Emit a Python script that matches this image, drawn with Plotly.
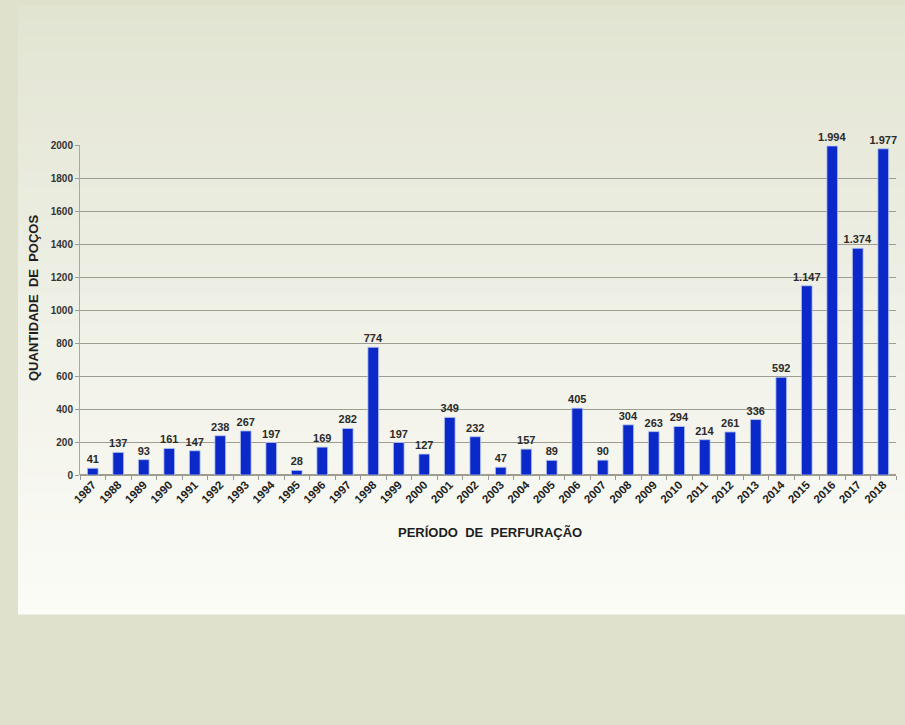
import plotly.graph_objects as go

years = [str(y) for y in range(1987, 2019)]
wells = [41, 137, 93, 161, 147, 238, 267, 197, 28, 169, 282, 774, 197, 127, 349,
         232, 47, 157, 89, 405, 90, 304, 263, 294, 214, 261, 336, 592, 1147, 1994,
         1374, 1977]
y_ticks = list(range(0, 2001, 200))

labels = [f"{v:,}".replace(",", ".") for v in wells]

W, H = 905, 725
L, R, T, B = 80, 9, 145, 250
pw = W - L - R
ph = H - T - B


def px_to_paper_x(px):
    return (px - L) / pw


def px_to_paper_y(py):
    return (H - B - py) / ph


FONT = "Liberation Sans, Arial, sans-serif"

fig = go.Figure()
fig.add_trace(go.Bar(
    x=years, y=wells, text=labels, textposition="outside",
    constraintext="none",
    textfont=dict(family=FONT, size=11, color="#2a2a2a", weight="bold"),
    marker=dict(color="#0b29c9", line=dict(color="#b9c8f0", width=0.8)),
    cliponaxis=False,
))

# gradient panel
top_px, bot_px = 5, 614
c_top = (226, 228, 210)
c_mid = (239, 240, 230)
c_bot = (252, 252, 247)
n = 40
shapes = []
for i in range(n):
    y0 = top_px + (bot_px - top_px) * i / n
    y1 = top_px + (bot_px - top_px) * (i + 1) / n
    t = (i + 0.5) / n
    if t < 0.5:
        a, b, s = c_top, c_mid, t / 0.5
    else:
        a, b, s = c_mid, c_bot, (t - 0.5) / 0.5
    col = tuple(round(a[k] + (b[k] - a[k]) * s) for k in range(3))
    shapes.append(dict(
        type="rect", xref="paper", yref="paper", layer="below",
        x0=px_to_paper_x(18), x1=px_to_paper_x(906),
        y0=px_to_paper_y(y1 + 0.6), y1=px_to_paper_y(y0),
        fillcolor="rgb(%d,%d,%d)" % col, line=dict(width=0),
    ))

fig.update_layout(
    width=W, height=H,
    margin=dict(l=L, r=R, t=T, b=B),
    paper_bgcolor="#e0e1cc",
    plot_bgcolor="rgba(0,0,0,0)",
    shapes=shapes,
    showlegend=False,
    bargap=0.58,
    font=dict(family=FONT, color="#222"),
    xaxis=dict(
        type="category", tickangle=-45,
        tickfont=dict(family=FONT, size=11.5, color="#1e1e1e", weight="bold"),
        ticks="outside", tickson="boundaries", ticklen=4, tickcolor="#999",
        showline=False, showgrid=False,
    ),
    yaxis=dict(
        range=[0, 2000], tickvals=y_ticks,
        tickfont=dict(family=FONT, size=10, color="#333", weight="bold"),
        showgrid=True, gridcolor="#9d9d8f", gridwidth=1,
        zeroline=True, zerolinecolor="#9d9d8f",
        showline=True, linecolor="#a8a8a0", linewidth=1,
        ticks="outside", ticklen=4, tickcolor="#999",
    ),
    annotations=[
        dict(text="PERÍODO  DE  PERFURAÇÃO", xref="paper", yref="paper",
             x=px_to_paper_x(490), y=px_to_paper_y(532),
             xanchor="center", yanchor="middle", showarrow=False,
             font=dict(family=FONT, size=13, color="#1e1e1e", weight="bold")),
        dict(text="QUANTIDADE  DE  POÇOS", xref="paper", yref="paper",
             x=px_to_paper_x(33), y=px_to_paper_y(298), textangle=-90,
             xanchor="center", yanchor="middle", showarrow=False,
             font=dict(family=FONT, size=13, color="#1e1e1e", weight="bold")),
    ],
)

fig.write_html("out.html")
